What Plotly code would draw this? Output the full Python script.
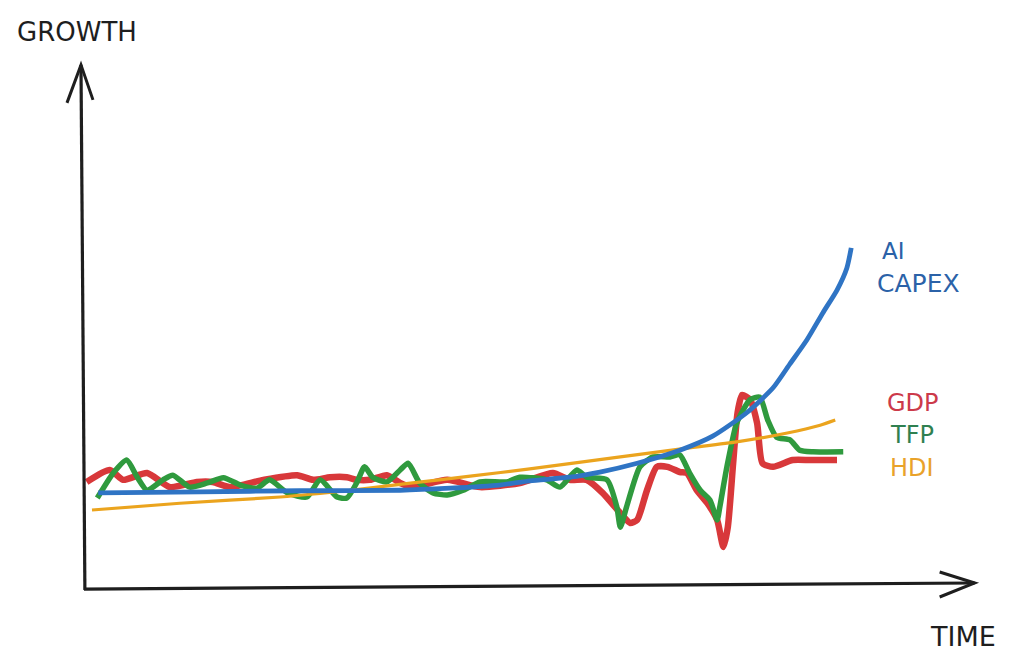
import plotly.graph_objects as go

# ---- data (time in arbitrary units 0-100, growth in arbitrary units 0-100) ----
time_gdp = [0.3, 2.9, 4.4, 7.1, 9.7, 12.7, 14.5, 16.4, 20.2, 24.0, 25.8, 27.7, 29.6, 30.7, 32.2,
            34.1, 35.6, 37.0, 40.9, 44.6, 49.1, 52.8, 54.7, 56.6, 58.4, 60.4, 61.5, 62.3, 63.4,
            64.5, 65.7, 67.1, 67.9, 69.0, 70.2, 71.3, 72.0, 72.5, 73.1, 73.6, 74.1, 75.0, 75.8,
            76.4, 77.6, 79.8, 81.8, 84.8]
gdp = [20.4, 22.7, 20.8, 22.1, 19.4, 20.4, 20.4, 19.4, 20.8, 21.7, 20.8, 21.3, 21.3, 20.8, 20.8,
       21.7, 20.2, 19.4, 20.8, 19.4, 20.2, 22.1, 20.8, 20.8, 18.3, 14.4, 12.5, 13.1, 18.8,
       23.3, 23.3, 22.3, 22.1, 18.8, 16.3, 13.1, 7.9, 11.7, 24.0, 33.7, 37.1, 36.2, 31.7,
       24.0, 23.3, 24.6, 24.6, 24.6]

time_tfp = [1.5, 3.3, 4.8, 6.0, 7.1, 8.9, 10.0, 11.9, 13.9, 15.7, 17.6, 19.5, 20.9, 22.9, 25.1,
            26.6, 28.5, 29.6, 30.7, 31.6, 32.5, 34.1, 35.6, 36.5, 37.8, 39.3, 40.9, 42.7, 44.6,
            47.6, 49.1, 52.1, 53.6, 55.5, 56.6, 58.9, 60.0, 60.4, 61.1, 62.6, 64.1, 66.0, 67.1,
            68.2, 69.4, 70.5, 71.3, 71.6, 72.4, 73.5, 75.0, 76.1, 77.0, 78.0, 79.5, 80.6, 82.1,
            85.5]
tfp = [17.3, 22.1, 24.6, 21.3, 18.8, 20.8, 21.7, 19.4, 20.2, 21.2, 19.8, 19.2, 20.8, 18.3, 17.5,
       20.8, 17.5, 17.3, 20.2, 23.3, 21.3, 20.4, 22.7, 24.0, 20.2, 18.3, 17.9, 18.8, 20.4,
       20.4, 21.3, 20.8, 19.4, 22.7, 21.3, 20.8, 15.6, 11.7, 15.6, 23.3, 25.2, 25.2, 25.6,
       22.1, 18.8, 16.9, 13.1, 15.6, 23.3, 31.7, 36.2, 36.7, 32.3, 29.0, 28.5, 26.5, 26.2,
       26.2]

time_hdi = [0.9, 10.8, 22.1, 30.0, 37.0, 43.5, 50.2, 60.4, 67.9, 73.5, 79.2, 82.9, 84.6]
hdi = [15.0, 16.3, 17.5, 18.8, 20.2, 21.5, 22.9, 25.2, 26.9, 28.1, 29.8, 31.3, 32.3]

time_capex = [1.6, 13.1, 24.3, 35.6, 41.2, 46.8, 50.2, 54.7, 58.1, 62.3, 67.1, 70.8, 74.7,
              77.6, 79.5, 81.4, 83.2, 84.8, 85.9, 86.4]
capex = [18.3, 18.5, 18.7, 18.8, 19.2, 19.8, 20.6, 21.3, 22.3, 24.0, 26.5, 29.2, 33.8,
         38.5, 43.1, 47.7, 52.9, 57.3, 61.5, 65.4]

RED = "#d8383a"
GREEN = "#2f9a3e"
ORANGE = "#eba41e"
BLUE = "#2f74c4"
INK = "#1e1e1e"
FONT = "DejaVu Sans"

fig = go.Figure()
fig.add_trace(go.Scatter(x=time_gdp, y=gdp, mode="lines", name="GDP",
                         line=dict(color=RED, width=6.5, shape="spline", smoothing=0.6)))
fig.add_trace(go.Scatter(x=time_tfp, y=tfp, mode="lines", name="TFP",
                         line=dict(color=GREEN, width=5.5, shape="spline", smoothing=0.6)))
fig.add_trace(go.Scatter(x=time_hdi, y=hdi, mode="lines", name="HDI",
                         line=dict(color=ORANGE, width=3.2, shape="spline", smoothing=0.6)))
fig.add_trace(go.Scatter(x=time_capex, y=capex, mode="lines", name="AI CAPEX",
                         line=dict(color=BLUE, width=4.8, shape="spline", smoothing=0.6)))

# hand-drawn style axes with open arrowheads
shapes = [
    dict(type="line", xref="x", yref="y", x0=0.1, y0=-0.4, x1=-0.34, y1=100.6,
         line=dict(color=INK, width=3.2)),
    dict(type="line", xref="x", yref="y", x0=0.0, y0=-0.2, x1=100.3, y1=0.96,
         line=dict(color=INK, width=3.2)),
    dict(type="path", xref="x", yref="y", xsizemode="pixel", ysizemode="pixel",
         xanchor=-0.34, yanchor=100.6, path="M -14,-38 L 0,0 L 12,-35",
         line=dict(color=INK, width=3)),
    dict(type="path", xref="x", yref="y", xsizemode="pixel", ysizemode="pixel",
         xanchor=100.3, yanchor=0.96, path="M -35,11 L 0,0 L -35,-14",
         line=dict(color=INK, width=3)),
]

annotations = [
    dict(text="GROWTH", x=-7.77, y=106.9, xanchor="left", yanchor="middle",
         font=dict(family=FONT, size=26, color=INK)),
    dict(text="TIME", x=95.0, y=-9.42, xanchor="left", yanchor="middle",
         font=dict(family=FONT, size=27, color=INK)),
    dict(text="AI", x=89.64, y=64.8, xanchor="left", yanchor="middle",
         font=dict(family=FONT, size=23, color="#2b62a8")),
    dict(text="CAPEX", x=89.1, y=58.65, xanchor="left", yanchor="middle",
         font=dict(family=FONT, size=25, color="#2b62a8")),
    dict(text="GDP", x=90.2, y=35.6, xanchor="left", yanchor="middle",
         font=dict(family=FONT, size=24, color="#cc3a4a")),
    dict(text="TFP", x=90.54, y=29.4, xanchor="left", yanchor="middle",
         font=dict(family=FONT, size=24, color="#2f8050")),
    dict(text="HDI", x=90.54, y=23.1, xanchor="left", yanchor="middle",
         font=dict(family=FONT, size=24, color="#e9a22a")),
]
for a in annotations:
    a.update(xref="x", yref="y", showarrow=False)

fig.update_layout(
    width=1024, height=670, autosize=False,
    margin=dict(l=0, r=0, t=0, b=0, pad=0),
    paper_bgcolor="white", plot_bgcolor="white",
    showlegend=False,
    xaxis=dict(visible=False, range=[-8.559, 106.757], fixedrange=True),
    yaxis=dict(visible=False, range=[-17.308, 111.538], fixedrange=True),
    shapes=shapes, annotations=annotations,
)

fig.write_html("out.html")
